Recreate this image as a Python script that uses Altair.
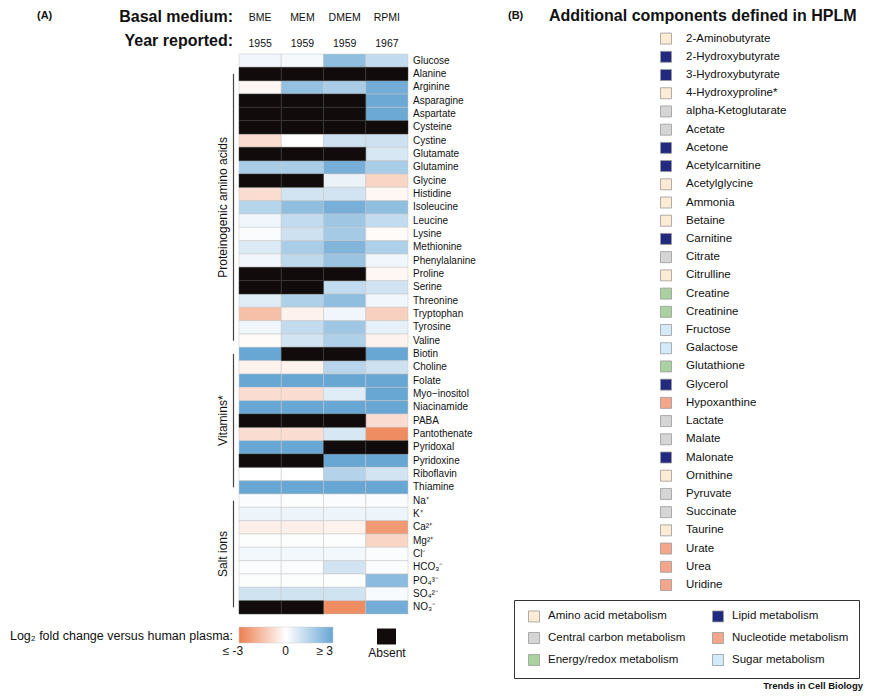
import altair as alt
import pandas as pd

FONT = "Liberation Sans"

# ---------------- data: panel A ----------------
media = ["BME", "MEM", "DMEM", "RPMI"]
years = ["1955", "1959", "1959", "1967"]

components = [
    "Glucose", "Alanine", "Arginine", "Asparagine", "Aspartate", "Cysteine", "Cystine",
    "Glutamate", "Glutamine", "Glycine", "Histidine", "Isoleucine", "Leucine", "Lysine",
    "Methionine", "Phenylalanine", "Proline", "Serine", "Threonine", "Tryptophan",
    "Tyrosine", "Valine", "Biotin", "Choline", "Folate", "Myo\u2212inositol", "Niacinamide",
    "PABA", "Pantothenate", "Pyridoxal", "Pyridoxine", "Riboflavin", "Thiamine",
    "Na\u207a", "K\u207a", "Ca\u00b2\u207a", "Mg\u00b2\u207a", "Cl\u207b", "HCO\u2083\u207b",
    "PO\u2084\u00b3\u207b", "SO\u2084\u00b2\u207b", "NO\u2083\u207b",
]

N = None  # absent from the medium
bme = [0.3, N, -0.2, N, N, N, -0.8, N, 1.7, N, -0.8, 1.45, 0.3, 0.1, 0.7, 0.3, N, N, 0.6,
       -1.5, 0.3, -0.1, 3, -0.3, 3, -0.8, 3, N, -0.8, 3, N, 0.0, 3, 0.1, 0.35, -0.4, 0.05,
       0.25, 0.1, 0.05, 0.95, N]
mem = [0.2, N, 2.1, N, N, N, 0.0, N, 1.7, N, 0.9, 2.2, 1.2, 1.0, 1.7, 1.3, N, N, 1.6, -0.3,
       1.2, 0.9, N, -0.3, 3, -0.8, 3, N, -0.8, 3, N, 0.0, 3, 0.05, 0.35, -0.4, 0.05, 0.25,
       0.1, 0.05, 0.95, N]
dmem = [2.2, N, 1.7, N, N, N, 1.0, N, 2.7, 0.4, 0.9, 2.7, 1.9, 1.8, 2.5, 2.0, N, 1.2, 2.2,
        0.3, 1.9, 1.6, N, 1.4, 3, 0.6, 3, N, 0.8, N, 3, 1.5, 3, 0.1, 0.35, -0.3, 0.05, 0.25,
        0.9, 0.05, 0.95, -2.7]
rpmi = [1.2, N, 2.8, 2.9, 2.9, N, 1.0, 0.8, 1.7, -1.0, -0.2, 2.2, 1.2, -0.1, 1.6, 0.3, -0.2,
        0.9, 0.3, -1.1, 0.5, -0.3, 3, 1.0, 3, 3, 3, -0.8, -2.7, N, 3, 0.9, 3, 0.1, 0.35, -2.4,
        -1.0, 0.1, 0.1, 2.3, 0.15, 2.8]

group_names = ["Proteinogenic amino acids", "Vitamins*", "Salt ions"]
group_first = ["Alanine", "Biotin", "Na\u207a"]
group_last = ["Valine", "Thiamine", "NO\u2083\u207b"]
group_mid = ["Isoleucine", "PABA", "Cl\u207b"]

# ---------------- data: panel B ----------------
items = [
    "2-Aminobutyrate", "2-Hydroxybutyrate", "3-Hydroxybutyrate", "4-Hydroxyproline*",
    "alpha-Ketoglutarate", "Acetate", "Acetone", "Acetylcarnitine", "Acetylglycine",
    "Ammonia", "Betaine", "Carnitine", "Citrate", "Citrulline", "Creatine", "Creatinine",
    "Fructose", "Galactose", "Glutathione", "Glycerol", "Hypoxanthine", "Lactate", "Malate",
    "Malonate", "Ornithine", "Pyruvate", "Succinate", "Taurine", "Urate", "Urea", "Uridine",
]
item_category = [
    "Amino acid metabolism", "Lipid metabolism", "Lipid metabolism", "Amino acid metabolism",
    "Central carbon metabolism", "Central carbon metabolism", "Lipid metabolism",
    "Lipid metabolism", "Amino acid metabolism", "Amino acid metabolism",
    "Amino acid metabolism", "Lipid metabolism", "Central carbon metabolism",
    "Amino acid metabolism", "Energy/redox metabolism", "Energy/redox metabolism",
    "Sugar metabolism", "Sugar metabolism", "Energy/redox metabolism", "Lipid metabolism",
    "Nucleotide metabolism", "Central carbon metabolism", "Central carbon metabolism",
    "Lipid metabolism", "Amino acid metabolism", "Central carbon metabolism",
    "Central carbon metabolism", "Amino acid metabolism", "Nucleotide metabolism",
    "Nucleotide metabolism", "Nucleotide metabolism",
]
categories = ["Amino acid metabolism", "Central carbon metabolism", "Energy/redox metabolism",
              "Lipid metabolism", "Nucleotide metabolism", "Sugar metabolism"]
category_colors = ["#fdebd3", "#d5d5d5", "#aad1a0", "#222a80", "#f5a68a", "#d3ebf8"]

# ---------------- tables ----------------
cols = {"BME": bme, "MEM": mem, "DMEM": dmem, "RPMI": rpmi}
rows = []
for m in media:
    for c, v in zip(components, cols[m]):
        rows.append({"medium": m, "component": c, "value": v,
                     "status": "Absent" if v is None else "Present"})
heat_df = pd.DataFrame(rows)
header_df = pd.DataFrame({"medium": media, "year": years})
comp_df = pd.DataFrame({"component": components})
group_df = pd.DataFrame({"group": group_names, "first": group_first,
                         "last": group_last, "mid": group_mid})
list_df = pd.DataFrame({"item": items, "category": item_category})

# ---------------- panel A ----------------
x_scale = alt.Scale(domain=media, range=[231, 400], paddingInner=0, paddingOuter=0)
y_scale = alt.Scale(domain=components, range=[46, 606], paddingInner=0, paddingOuter=0)
X = alt.X("medium:N", scale=x_scale, axis=None)
Y = alt.Y("component:N", scale=y_scale, axis=None)

cells = alt.Chart(heat_df).transform_filter("datum.status == 'Present'").mark_rect(
    stroke="#c4c4c4", strokeWidth=0.5
).encode(
    x=X, y=Y,
    color=alt.Color(
        "value:Q",
        scale=alt.Scale(domain=[-3, 0, 3], range=["#ec8050", "#ffffff", "#68a6d4"],
                        clamp=True, interpolate="rgb"),
        legend=alt.Legend(orient="none", legendX=231, legendY=619, direction="horizontal",
                          title=None, gradientLength=94, gradientThickness=16,
                          values=[-3, 0, 3], labelExpr="''", labelOpacity=0,
                          gradientStrokeColor="#cccccc", gradientStrokeWidth=0.5),
    ),
)

absent = alt.Chart(heat_df).transform_filter("datum.status == 'Absent'").mark_rect(
    stroke="#3a3a3a", strokeWidth=0.5
).encode(
    x=X, y=Y,
    fill=alt.Fill(
        "status:N",
        scale=alt.Scale(domain=["Absent"], range=["#110c0b"]),
        legend=alt.Legend(orient="none", legendX=360, legendY=619, title="Absent",
                          titleOrient="bottom", titleAnchor="middle", titleFontSize=12,
                          titleFontWeight="normal", titleColor="#111", titleFont=FONT,
                          titlePadding=4, labelExpr="''", labelOffset=0,
                          symbolType="M-1,-0.84H1V0.84H-1Z", symbolSize=361,
                          symbolStrokeWidth=0),
    ),
)

col_head = alt.Chart(header_df).mark_text(fontSize=10.5, font=FONT, color="#111",
                                          baseline="alphabetic").encode(
    x=X, y=alt.value(12.5), text="medium:N")
year_head = alt.Chart(header_df).mark_text(fontSize=10.5, font=FONT, color="#111",
                                           baseline="alphabetic").encode(
    x=X, y=alt.value(38.5), text="year:N")

row_labels = alt.Chart(comp_df).mark_text(align="left", baseline="middle", fontSize=10,
                                          font=FONT, color="#111").encode(
    y=Y, x=alt.value(405), text="component:N")

brackets = alt.Chart(group_df).mark_rule(color="#444", strokeWidth=1.2).encode(
    y=alt.Y("first:N", scale=y_scale, axis=None), y2="last:N", x=alt.value(225.5))

group_text = alt.Chart(group_df).mark_text(angle=270, align="center", baseline="middle",
                                           fontSize=12, font=FONT, color="#111").encode(
    y=alt.Y("mid:N", scale=y_scale, axis=None), x=alt.value(215), text="group:N")

panel_a = alt.layer(cells, absent, col_head, year_head, row_labels, brackets, group_text)

# ---------------- panel B ----------------
LY = alt.Y("item:N", scale=alt.Scale(domain=items, type="point", range=[30.6, 577],
                                     padding=0), axis=None)
squares = alt.Chart(list_df).mark_square(size=121, stroke="#9a9a9a", strokeWidth=0.8,
                                         opacity=1).encode(
    y=LY, x=alt.value(658),
    color=alt.Color(
        "category:N",
        scale=alt.Scale(domain=categories, range=category_colors),
        legend=alt.Legend(orient="none", legendX=506, legendY=592, columns=2, title=None,
                          symbolType="square", symbolSize=121, symbolStrokeColor="#9a9a9a",
                          symbolStrokeWidth=0.8, symbolOpacity=1, labelFontSize=11.5,
                          labelFont=FONT, labelColor="#111", labelOffset=8,
                          symbolOffset=4, columnPadding=22, rowPadding=6, padding=10,
                          strokeColor="#333333", fillColor="#ffffff", labelLimit=300),
    ),
)
item_labels = alt.Chart(list_df).mark_text(align="left", baseline="middle", fontSize=11.5,
                                           font=FONT, color="#111").encode(
    y=LY, x=alt.value(678), text="item:N")

panel_b = alt.layer(squares, item_labels)


# ---------------- free text ----------------
def note(text, x, y, size, weight="normal", align="left"):
    return alt.Chart(alt.Data(values=[{"t": text}])).mark_text(
        align=align, baseline="alphabetic", fontSize=size, fontWeight=weight, font=FONT,
        color="#111"
    ).encode(x=alt.value(x), y=alt.value(y), text="t:N")


notes = [
    note("(A)", 29, 10.5, 11, "bold"),
    note("Basal medium:", 225, 13.5, 16, "bold", "right"),
    note("Year reported:", 225, 37.5, 16, "bold", "right"),
    note("(B)", 500, 11, 11, "bold"),
    note("Additional components defined in HPLM", 541, 12.5, 16, "bold"),
    note("Log\u2082 fold change versus human plasma:", 225, 632, 12.5, "normal", "right"),
    note("\u2264 -3", 225, 647, 12, "normal", "center"),
    note("0", 277.5, 647, 12, "normal", "center"),
    note("\u2265 3", 325, 647, 12, "normal", "right"),
    note("Trends in Cell Biology", 855, 681, 9.5, "bold", "right"),
]

chart = alt.layer(panel_a, panel_b, *notes).resolve_scale(
    x="independent", y="independent", color="independent", fill="independent"
).properties(
    width=855, height=683, padding=0, autosize=alt.AutoSizeParams(type="none"),
    background="white",
).configure(font=FONT).configure_view(stroke=None)

chart.save("out.html", embed_options={"renderer": "svg", "actions": False})
